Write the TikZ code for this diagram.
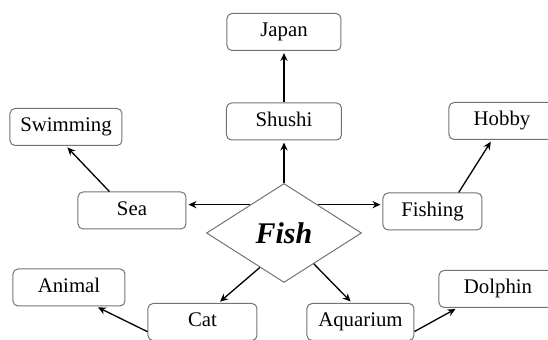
\documentclass[tikz,border=0pt]{standalone}
\usepackage{fontspec}
\setmainfont{Liberation Serif}
\usetikzlibrary{shapes.geometric,arrows.meta}

\begin{document}
\begin{tikzpicture}[x=0.5pt,y=-0.5pt,
  box/.style={draw=black!55,line width=0.5pt,rounded corners=2.5pt,minimum height=18.5pt,inner sep=0pt,
    font=\fontsize{10.4}{12}\selectfont,text height=0.7em,text depth=0.2em},
  link/.style={-{Stealth[length=4pt,width=3.6pt]},line width=0.65pt,shorten >=1pt}]
\clip (0,0) rectangle (548,340);
\node[diamond,draw=black!55,line width=0.5pt,minimum width=77.5pt,minimum height=49.5pt,aspect=1.57,inner sep=0pt,
  font=\fontsize{15}{18}\selectfont\bfseries\itshape] (fish) at (284,233) {Fish};
\foreach \name/\x/\y/\w/\txt in {japan/284/32/57/Japan,shushi/284/121.5/57.5/Shushi,swimming/66/127/56/Swimming,
  sea/132/210.5/54/Sea,fishing/432.5/211.5/49.5/Fishing,hobby/502/121/53/Hobby,animal/69/287.5/56/Animal,
  cat/202.5/322/54.5/Cat,aquarium/360.5/322/53.5/Aquarium,dolphin/498/289/59/Dolphin}
  {\node[box,minimum width=\w pt] (\name) at (\x,\y) {\txt};}
\foreach \a/\b in {fish.north/shushi.south,shushi.north/japan.south,fish.140/fish.140 -| sea.east,
  fish.40/fish.40 -| fishing.west,sea.140/swimming.south,fishing.36/hobby.242,fish.235/cat.50,
  fish.314/aquarium.114,cat.190/animal.325,aquarium.350/dolphin.205}
  {\draw[link] (\a) -- (\b);}
\end{tikzpicture}
\end{document}
